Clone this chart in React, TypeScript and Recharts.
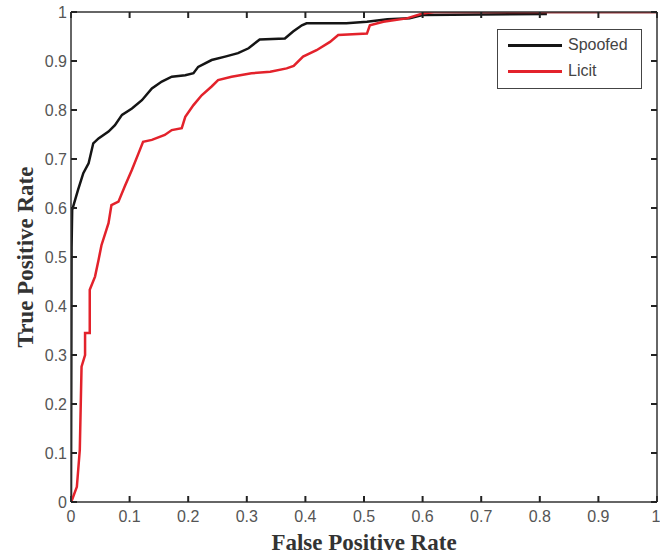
import { LineChart, Line, XAxis, YAxis, Legend, Label } from "recharts";

// ROC points (false positive rate, true positive rate)
const spoofedFpr = [
  0, 0.001, 0.002, 0.012, 0.021, 0.03, 0.038, 0.047, 0.064, 0.075, 0.087, 0.104,
  0.121, 0.138, 0.155, 0.172, 0.195, 0.209, 0.217, 0.24, 0.263, 0.285, 0.303,
  0.322, 0.365, 0.379, 0.394, 0.402, 0.47, 0.505, 0.54, 0.578, 0.6, 0.81, 0.81, 1,
];
const spoofedTpr = [
  0, 0.52, 0.596, 0.637, 0.671, 0.691, 0.732, 0.742, 0.756, 0.769, 0.79, 0.803,
  0.82, 0.844, 0.858, 0.868, 0.871, 0.875, 0.888, 0.902, 0.909, 0.916, 0.926,
  0.944, 0.946, 0.96, 0.973, 0.977, 0.977, 0.98, 0.985, 0.987, 0.994, 0.996, 1, 1,
];

const licitFpr = [
  0, 0.002, 0.01, 0.015, 0.018, 0.024, 0.024, 0.032, 0.032, 0.041, 0.047, 0.052,
  0.064, 0.069, 0.081, 0.092, 0.104, 0.115, 0.123, 0.138, 0.16, 0.172, 0.189,
  0.195, 0.209, 0.223, 0.24, 0.251, 0.274, 0.308, 0.34, 0.368, 0.38, 0.396,
  0.419, 0.442, 0.456, 0.505, 0.51, 0.533, 0.573, 0.6, 0.62, 1,
];
const licitTpr = [
  0, 0.005, 0.031, 0.106, 0.276, 0.3, 0.345, 0.345, 0.433, 0.46, 0.494, 0.524,
  0.569, 0.606, 0.613, 0.645, 0.678, 0.711, 0.735, 0.739, 0.749, 0.759, 0.763,
  0.786, 0.81, 0.83, 0.848, 0.861, 0.868, 0.875, 0.878, 0.885, 0.89, 0.909,
  0.922, 0.939, 0.953, 0.956, 0.973, 0.98, 0.987, 0.997, 1, 1,
];

const ticks = [0, 0.1, 0.2, 0.3, 0.4, 0.5, 0.6, 0.7, 0.8, 0.9, 1];
const legendOrder = ["Spoofed", "Licit"];

const spoofed = spoofedFpr.map((x, i) => ({ fpr: x, tpr: spoofedTpr[i] }));
const licit = licitFpr.map((x, i) => ({ fpr: x, tpr: licitTpr[i] }));

const tickFont = "'Liberation Sans', Arial, sans-serif";
const titleFont = "'Liberation Serif', 'Times New Roman', serif";
const axisColor = "#333";

const fmt = (v: number) => (v === 0 || v === 1 ? String(v) : v.toFixed(1));
const tickStyle = { fontSize: 16, fill: "#555", fontFamily: tickFont };
const tickLineStyle = { stroke: "#222", strokeWidth: 2 };
const axisLineStyle = { stroke: axisColor, strokeWidth: 1.5 };

const YTitle = ({ viewBox }: any) => {
  const cx = viewBox.x + 25;
  const cy = viewBox.y + viewBox.height / 2;
  return (
    <text
      x={cx}
      y={cy}
      transform={`rotate(-90 ${cx} ${cy})`}
      textAnchor="middle"
      dominantBaseline="central"
      fontSize={23}
      fontWeight="bold"
      fontFamily={titleFont}
      fill="#333"
    >
      True Positive Rate
    </text>
  );
};

const XTitle = ({ viewBox }: any) => (
  <text
    x={viewBox.x + viewBox.width / 2}
    y={viewBox.y + 48}
    textAnchor="middle"
    fontSize={23}
    fontWeight="bold"
    fontFamily={titleFont}
    fill="#333"
  >
    False Positive Rate
  </text>
);

const LegendBox = ({ payload }: any) => {
  const items = [...(payload || [])].sort(
    (a: any, b: any) => legendOrder.indexOf(a.value) - legendOrder.indexOf(b.value)
  );
  return (
    <div
      style={{
        border: "1px solid #444",
        background: "#fff",
        width: 143,
        padding: "2px 0 4px",
        fontFamily: tickFont,
        fontSize: 16,
        color: "#444",
      }}
    >
      {items.map((entry: any) => (
        <div key={entry.value} style={{ display: "flex", alignItems: "center", height: 26 }}>
          <span
            style={{
              display: "inline-block",
              width: 54,
              borderTop: `3px solid ${entry.color}`,
              marginLeft: 10,
              marginRight: 6,
            }}
          />
          {entry.value}
        </div>
      ))}
    </div>
  );
};

const App = () => (
  <div style={{ position: "absolute", left: 0, top: 0, background: "#fff" }}>
    <LineChart width={660} height={560} margin={{ top: 11, right: 2, left: 0, bottom: 0 }}>
      <XAxis
        xAxisId="bottom"
        dataKey="fpr"
        type="number"
        domain={[0, 1]}
        allowDataOverflow
        ticks={ticks}
        tickFormatter={fmt}
        height={58}
        tickSize={-6}
        tickMargin={15}
        tick={tickStyle}
        tickLine={tickLineStyle}
        axisLine={axisLineStyle}
      >
        <Label content={XTitle} />
      </XAxis>
      <XAxis
        xAxisId="top"
        orientation="top"
        dataKey="fpr"
        type="number"
        domain={[0, 1]}
        allowDataOverflow
        ticks={ticks}
        tickFormatter={() => ""}
        height={1}
        tickSize={-6}
        tickMargin={0}
        tickLine={tickLineStyle}
        axisLine={axisLineStyle}
      />
      <YAxis
        yAxisId="left"
        type="number"
        domain={[0, 1]}
        allowDataOverflow
        ticks={ticks}
        tickFormatter={fmt}
        width={71}
        tickSize={-6}
        tickMargin={10}
        tick={tickStyle}
        tickLine={tickLineStyle}
        axisLine={axisLineStyle}
      >
        <Label content={YTitle} />
      </YAxis>
      <YAxis
        yAxisId="right"
        orientation="right"
        type="number"
        domain={[0, 1]}
        allowDataOverflow
        ticks={ticks}
        tickFormatter={() => ""}
        width={1}
        tickSize={-6}
        tickMargin={0}
        tickLine={tickLineStyle}
        axisLine={axisLineStyle}
      />
      <Legend
        content={<LegendBox />}
        layout="horizontal"
        verticalAlign="middle"
        wrapperStyle={{ top: 29, left: 497, width: 145 }}
      />
      <Line
        xAxisId="bottom"
        yAxisId="left"
        data={spoofed}
        dataKey="tpr"
        name="Spoofed"
        type="linear"
        stroke="#151515"
        strokeWidth={2.5}
        dot={false}
        isAnimationActive={false}
      />
      <Line
        xAxisId="bottom"
        yAxisId="left"
        data={licit}
        dataKey="tpr"
        name="Licit"
        type="linear"
        stroke="#e3222b"
        strokeWidth={2.5}
        dot={false}
        isAnimationActive={false}
      />
    </LineChart>
  </div>
);

export default App;
